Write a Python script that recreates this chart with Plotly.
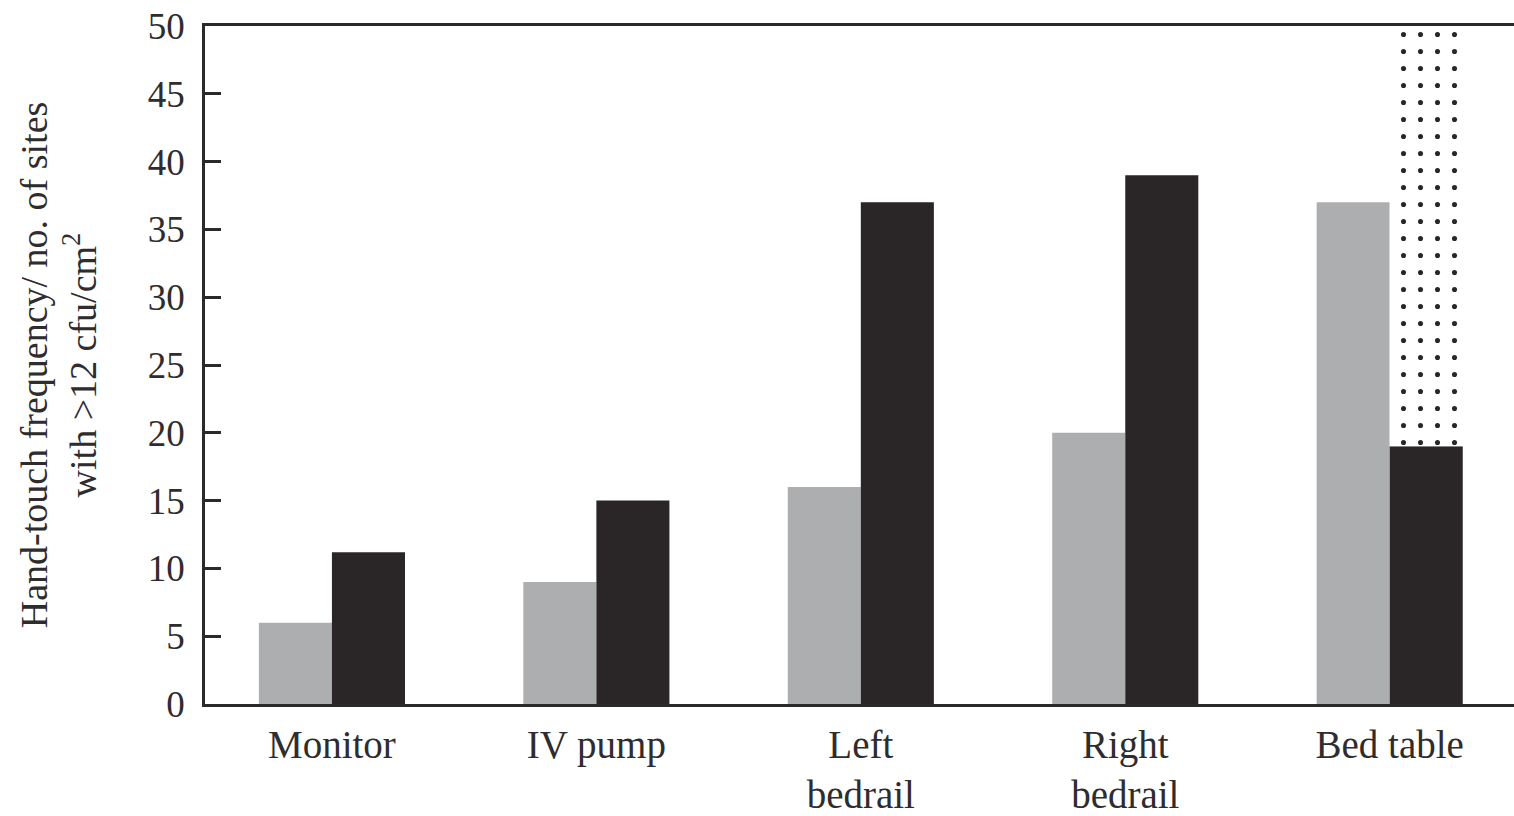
import plotly.graph_objects as go

# Surfaces sampled and their values
sites = ["Monitor", "IV pump", "Left<br>bedrail", "Right<br>bedrail", "Bed table"]
gray_values = [6, 9, 16, 20, 37]
black_values = [11.2, 15, 37, 39, 19]

# Bed table: dotted segment continues above the black bar to the top of the scale
dotted_sites = ["Bed table"]
dotted_base = [19]
dotted_top = [50]

y_ticks = [0, 5, 10, 15, 20, 25, 30, 35, 40, 45, 50]

GRAY = "#adaeb0"
BLACK = "#2a2627"
TEXT = "#2e2c2d"
FONT = "Liberation Serif"

fig = go.Figure()
fig.add_trace(go.Bar(
    x=sites, y=gray_values, offsetgroup="g",
    marker=dict(color=GRAY, line=dict(width=0)),
))
fig.add_trace(go.Bar(
    x=sites, y=black_values, offsetgroup="b",
    marker=dict(color=BLACK, line=dict(width=0)),
))
fig.add_trace(go.Bar(
    x=dotted_sites,
    y=[t - b for t, b in zip(dotted_top, dotted_base)],
    base=dotted_base, offsetgroup="b",
    marker=dict(
        color="white", line=dict(width=0),
        pattern=dict(shape=".", fgcolor=BLACK, bgcolor="white",
                     size=17, solidity=0.07, fillmode="replace"),
    ),
))

fig.update_layout(
    width=1514, height=816,
    margin=dict(l=205, r=0, t=26, b=109),
    paper_bgcolor="white", plot_bgcolor="white",
    barmode="group", bargap=0.4475, bargroupgap=0,
    showlegend=False,
    font=dict(family=FONT, color=TEXT, size=36),
)
fig.update_xaxes(
    range=[-0.48, 4.47],
    showline=True, linecolor="#2a2a2a", linewidth=2.5, mirror=True,
    ticks="", showgrid=False, zeroline=False,
    ticklabelstandoff=4,
    tickfont=dict(size=39, family=FONT, color=TEXT),
)
fig.update_yaxes(
    range=[0, 50], tickvals=y_ticks,
    showline=True, linecolor="#2a2a2a", linewidth=2.5, mirror=False,
    ticks="inside", ticklen=16, tickwidth=2.5, tickcolor="#2a2a2a",
    showgrid=False, zeroline=False,
    ticklabelstandoff=10,
    tickfont=dict(size=37, family=FONT, color=TEXT),
    title=dict(
        text="Hand-touch frequency/ no. of sites<br>with &gt;12 cfu/cm<sup>2</sup>",
        font=dict(size=38, family=FONT, color=TEXT),
        standoff=40,
    ),
)

fig.write_html("out.html")
